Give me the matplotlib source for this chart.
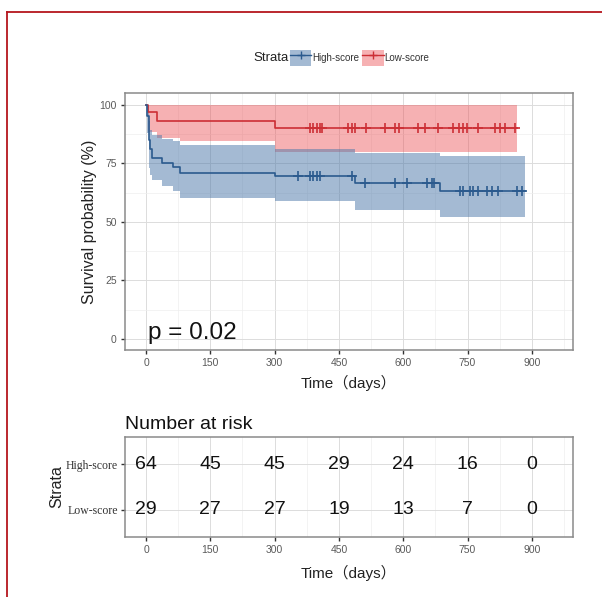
import numpy as np
import matplotlib
matplotlib.use("Agg")
import matplotlib.pyplot as plt
from matplotlib.lines import Line2D
from matplotlib.patches import Patch

plt.rcParams['font.family'] = ['Liberation Sans', 'DejaVu Sans']

# survival curves (%), step changes at these times (days)
high_t  = [0, 3, 6, 8, 10, 13, 37, 64, 79, 300, 488, 686, 884]
high_s  = [100, 95, 90, 85, 81, 77.2, 75.1, 73.4, 70.8, 69.4, 66.6, 63.0, 63.0]
high_up = [100, 100, 97, 93, 89, 87, 85.5, 84.5, 83, 81, 79.2, 78, 78]
high_lo = [100, 88, 80, 73, 70, 67.9, 65.1, 63.0, 60.1, 58.7, 55.1, 52.0, 52.0]

low_t  = [0, 5, 25, 79, 300, 865]
low_s  = [100, 96.7, 92.9, 92.9, 90.0, 90.0]
low_up = [100, 100, 100, 100, 100, 100]
low_lo = [100, 88.5, 85.7, 84.3, 79.8, 79.8]

# censored observations
high_cens = [355, 383, 390, 398, 406, 480, 511, 581, 608, 655, 667, 672, 733, 740,
             756, 763, 775, 795, 806, 822, 865, 876]
low_cens = [383, 390, 400, 405, 410, 472, 480, 488, 513, 557, 581, 589, 635, 651,
            682, 717, 729, 740, 748, 775, 814, 826, 838, 861]

# number at risk
risk_times = [0, 150, 300, 450, 600, 750, 900]
risk_high = [64, 45, 45, 29, 24, 16, 0]
risk_low = [29, 27, 27, 19, 13, 7, 0]
strata = ['High-score', 'Low-score']

blue_line, blue_fill = '#2B5A8E', '#4A77A8'
red_line, red_fill = '#CC2F35', '#EC5257'
grid_major, grid_minor = '#DCDCDC', '#EEEEEE'
tick_col = '#5A5A5A'
cjk = ['Liberation Sans', 'Noto Sans CJK SC']

fig = plt.figure(figsize=(6.02, 5.97), dpi=100)

def style_axes(ax):
    ax.set_xlim(-49, 996)
    ax.set_xticks(risk_times)
    ax.set_xticks([75, 225, 375, 525, 675, 825, 975], minor=True)
    ax.grid(True, which='major', color=grid_major, lw=0.7)
    ax.grid(True, which='minor', color=grid_minor, lw=0.5)
    ax.set_axisbelow(True)
    for s in ax.spines.values():
        s.set_color('#8A8A8A')
        s.set_linewidth(1.1)
    ax.tick_params(which='major', length=3, width=1, color='#333333',
                   labelsize=7.5, labelcolor=tick_col, pad=3)
    ax.tick_params(which='minor', length=0)

# ---- survival plot
ax = fig.add_axes([125 / 602, 1 - 350 / 597, 448 / 602, 257 / 597])
style_axes(ax)
ax.set_ylim(-4.7, 105)
ax.set_yticks([0, 25, 50, 75, 100])
ax.set_yticks([12.5, 37.5, 62.5, 87.5], minor=True)

ax.fill_between(low_t, low_lo, low_up, step='post', color=red_fill, alpha=0.45, lw=0)
ax.fill_between(high_t, high_lo, high_up, step='post', color=blue_fill, alpha=0.5, lw=0)
ax.step(low_t, low_s, where='post', color=red_line, lw=1.2)
ax.step(high_t, high_s, where='post', color=blue_line, lw=1.2)

def surv_at(times, vals, t):
    i = np.searchsorted(times, t, side='right') - 1
    return vals[i]

ax.plot(low_cens, [surv_at(low_t, low_s, t) for t in low_cens], ls='none',
        marker='+', ms=7, mew=1.2, color=red_line)
ax.plot(high_cens, [surv_at(high_t, high_s, t) for t in high_cens], ls='none',
        marker='+', ms=7, mew=1.2, color=blue_line)

ax.text(5, 2.5, 'p = 0.02', fontsize=17.5, ha='left', va='center', color='#111111')
ax.set_ylabel('Survival probability (%)', fontsize=11.5, color='#222222', labelpad=2)
ax.set_xlabel('Time（days）', fontsize=11, color='#222222', labelpad=5, family=cjk)

# legend
fig.text(271 / 602, 1 - 58 / 597, 'Strata', fontsize=9.5, ha='center', va='center',
         color='#222222')
handles = [
    (Patch(facecolor=blue_fill, alpha=0.5, lw=0),
     Line2D([], [], color=blue_line, lw=1, marker='+', ms=6, mew=1)),
    (Patch(facecolor=red_fill, alpha=0.45, lw=0),
     Line2D([], [], color=red_line, lw=1, marker='+', ms=6, mew=1)),
]
fig.legend(handles, strata, loc='center left', bbox_to_anchor=(290 / 602, 1 - 58 / 597),
           ncol=2, frameon=False, fontsize=7, handlelength=2.2, handleheight=2.2,
           handletextpad=0.1, columnspacing=0.3, borderpad=0, borderaxespad=0,
           labelcolor='#333333')

# ---- risk table
ax2 = fig.add_axes([125 / 602, 1 - 537 / 597, 448 / 602, 100 / 597])
style_axes(ax2)
ax2.set_ylim(0.4, 2.6)
ax2.set_yticks([1, 2])
ax2.set_yticklabels(['Low-score', 'High-score'], family='Liberation Serif', fontsize=8.5)
ax2.tick_params(axis='y', which='major', labelcolor='#333333', pad=2)
for t, n in zip(risk_times, risk_high):
    ax2.text(t, 2, str(n), ha='center', va='center', fontsize=14, color='#111111')
for t, n in zip(risk_times, risk_low):
    ax2.text(t, 1, str(n), ha='center', va='center', fontsize=14, color='#111111')
ax2.set_title('Number at risk', loc='left', fontsize=14, color='#111111', pad=6)
ax2.set_ylabel('Strata', fontsize=11.5, color='#222222', labelpad=1)
ax2.set_xlabel('Time（days）', fontsize=11, color='#222222', labelpad=7, family=cjk)

# red frame
fig.add_artist(Line2D([7 / 602, 1], [1 - 12 / 597, 1 - 12 / 597], color='#B5161E', lw=1.3))
fig.add_artist(Line2D([7 / 602, 7 / 602], [0, 1 - 12 / 597], color='#B5161E', lw=1.3))

fig.savefig('out.png', dpi=100, facecolor='white')
